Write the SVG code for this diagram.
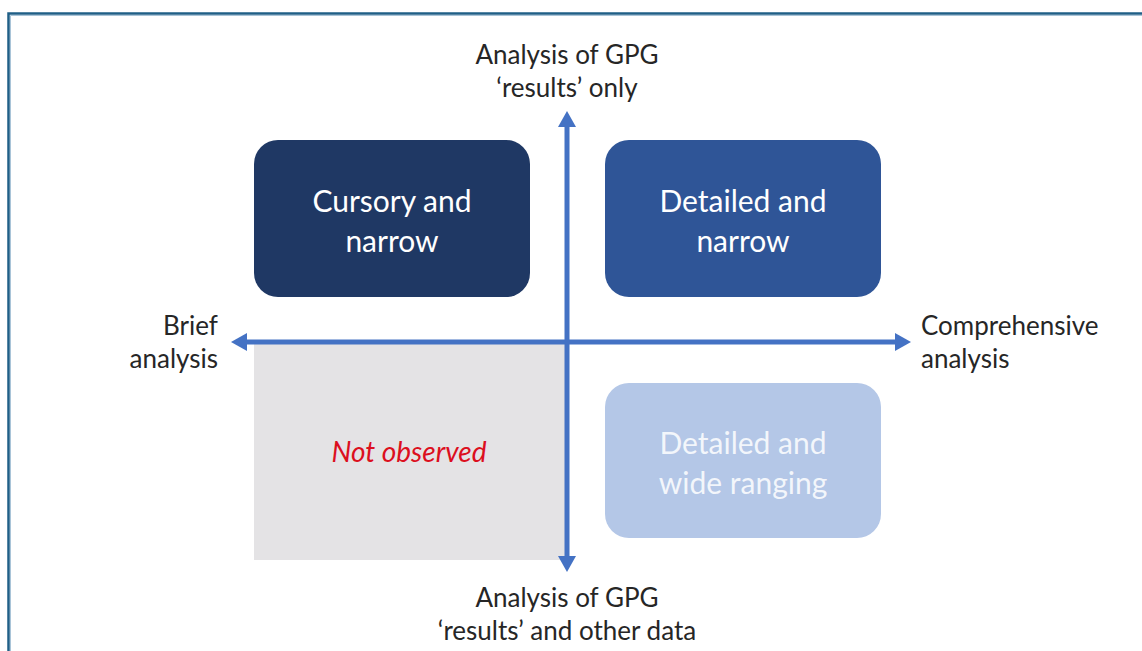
<svg xmlns="http://www.w3.org/2000/svg" width="1142" height="651" viewBox="0 0 1142 651">
  <defs>
    <style>
      .lbl { font-family: Lato, "Open Sans", "Liberation Sans", sans-serif; font-size: 26px; fill: #262626; }
      .box-text { font-family: Lato, "Open Sans", "Liberation Sans", sans-serif; font-size: 30px; fill: #ffffff; text-anchor: middle; }
      .axis { stroke: #4472c4; stroke-width: 5; fill: none; }
    </style>
    <marker id="arrow" viewBox="0 0 16 18" refX="2" refY="9" markerUnits="userSpaceOnUse" markerWidth="16" markerHeight="18" orient="auto">
      <path d="M0,0 L16,9 L0,18 Z" fill="#4472c4"/>
    </marker>
  </defs>

  <rect width="1142" height="651" fill="#ffffff"/>

  <!-- outer frame: top and left edges -->
  <path d="M8.5,651 V13.5 H1142" fill="none" stroke="#1f5f87" stroke-width="2.5"/>
  <path d="M10.5,651 V15.5 H1142" fill="none" stroke="#a9c4d8" stroke-width="1"/>

  <!-- quadrant with no observations -->
  <g id="not-observed">
    <rect x="254" y="343" width="313" height="217" fill="#e4e3e5"/>
    <text x="409" y="462" text-anchor="middle" font-family="Lato, 'Open Sans', 'Liberation Sans', sans-serif" font-size="28" font-style="italic" fill="#dc0f1e">Not observed</text>
  </g>

  <g id="cursory-narrow">
    <rect x="254" y="140" width="276" height="157" rx="24" fill="#1f3864"/>
    <text class="box-text" x="392" y="212">Cursory and</text>
    <text class="box-text" x="392" y="252">narrow</text>
  </g>

  <g id="detailed-narrow">
    <rect x="605" y="140" width="276" height="157" rx="24" fill="#2f5597"/>
    <text class="box-text" x="743" y="212">Detailed and</text>
    <text class="box-text" x="743" y="252">narrow</text>
  </g>

  <g id="detailed-wide">
    <rect x="605" y="383" width="276" height="155" rx="24" fill="#b4c7e7"/>
    <text class="box-text" x="743" y="454" fill-opacity="0.85">Detailed and</text>
    <text class="box-text" x="743" y="494" fill-opacity="0.85">wide ranging</text>
  </g>

  <!-- axes -->
  <g id="connectors">
    <line class="axis" x1="567" y1="343" x2="567" y2="125" marker-end="url(#arrow)"/>
    <line class="axis" x1="567" y1="343" x2="567" y2="558" marker-end="url(#arrow)"/>
    <line class="axis" x1="567" y1="342" x2="245" y2="342" marker-end="url(#arrow)"/>
    <line class="axis" x1="567" y1="342" x2="897" y2="342" marker-end="url(#arrow)"/>
  </g>

  <!-- axis labels -->
  <g id="label-top">
    <text class="lbl" x="567" y="64" text-anchor="middle">Analysis of GPG</text>
    <text class="lbl" x="567" y="97" text-anchor="middle">‘results’ only</text>
  </g>
  <g id="label-bottom">
    <text class="lbl" x="567" y="607" text-anchor="middle">Analysis of GPG</text>
    <text class="lbl" x="567" y="640" text-anchor="middle">‘results’ and other data</text>
  </g>
  <g id="label-left">
    <text class="lbl" x="218" y="335" text-anchor="end">Brief</text>
    <text class="lbl" x="218" y="368" text-anchor="end">analysis</text>
  </g>
  <g id="label-right">
    <text class="lbl" x="921" y="335">Comprehensive</text>
    <text class="lbl" x="921" y="368">analysis</text>
  </g>
</svg>
